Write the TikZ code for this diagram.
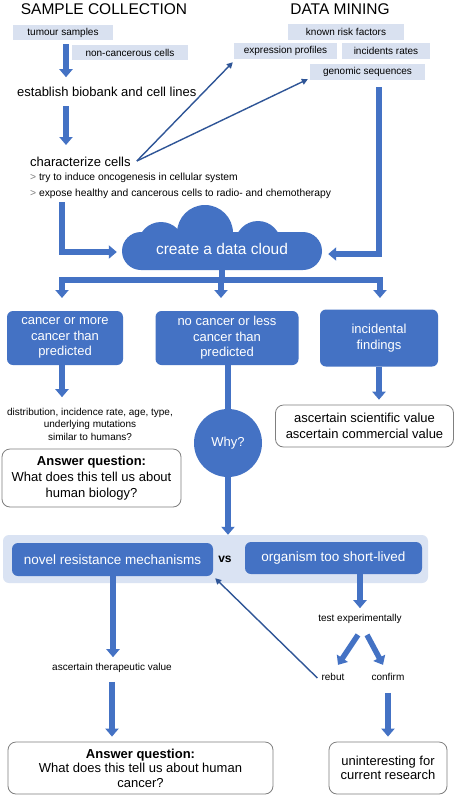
\documentclass[tikz,border=0pt]{standalone}
\usepackage{fontspec}
\setmainfont{Liberation Sans}
\usetikzlibrary{arrows.meta,calc}
\definecolor{myblue}{HTML}{4472C4}
\definecolor{lightbox}{HTML}{D9E1F0}
\definecolor{bandcol}{HTML}{DAE3F3}
\definecolor{thinblue}{HTML}{2F5597}
\definecolor{bordergray}{HTML}{7F7F7F}
\newcommand{\fsz}[2]{\fontsize{#1}{#2}\selectfont}
\begin{document}
\begin{tikzpicture}[x=1pt,y=-1pt,
 lbox/.style={fill=lightbox, inner sep=0pt, font=\fsz{10}{12}},
 bbox/.style={fill=myblue, text=white, rounded corners=6pt, align=center, inner sep=0pt, font=\fsz{13}{15.5}},
 wbox/.style={draw=bordergray, line width=0.8pt, fill=white, rounded corners=8pt, align=center, inner sep=0pt, font=\fsz{13}{15.5}},
 txt/.style={inner sep=0pt, font=\fsz{13}{15}},
 btxt/.style={inner sep=0pt, font=\fsz{10.3}{12}},
 small/.style={inner sep=0pt, font=\fsz{10}{12.5}, align=center},
 tline/.style={draw=myblue, line width=5.5pt},
 tarrow/.style={draw=myblue, line width=5.5pt, -{Triangle[width=13pt,length=8pt]}},
 tharrow/.style={draw=thinblue, line width=1.4pt, -{Triangle[width=6pt,length=6pt]}},
]
\useasboundingbox[fill=white] (0,0) rectangle (456,796);

% headings
\node[inner sep=0pt, font=\fsz{15.5}{18}] (hsc) at (104,9) {SAMPLE COLLECTION};
\node[inner sep=0pt, font=\fsz{15.5}{18}] (hdm) at (340,9) {DATA MINING};

% sample boxes
\node[lbox, minimum width=100pt, minimum height=15pt] (tumour) at (63,32.5) {tumour samples};
\node[lbox, minimum width=116pt, minimum height=15pt] (noncanc) at (130,52.5) {non-cancerous cells};

% data mining boxes
\node[lbox, minimum width=116pt, minimum height=16pt] (known) at (346,31.5) {known risk factors};
\node[lbox, minimum width=103pt, minimum height=16pt] (expr) at (285.5,51) {expression profiles};
\node[lbox, minimum width=88pt, minimum height=16pt] (incid) at (386,51) {incidents rates};
\node[lbox, minimum width=115pt, minimum height=16pt] (genom) at (367.5,72) {genomic sequences};

% left column
\node[txt, anchor=west] (estab) at (17,92) {establish biobank and cell lines};
\node[txt, anchor=west] (charac) at (30,162) {characterize cells};
\node[btxt, anchor=west] (bul1) at (30,178) {{\color{gray}>} try to induce oncogenesis in cellular system};
\node[btxt, anchor=west] (bul2) at (30,194) {{\color{gray}>} expose healthy and cancerous cells to radio- and chemotherapy};

\draw[tarrow] ([xshift=3pt,yshift=-4pt]tumour.south) -- ++(0,33);
\draw[tarrow] (66,106) -- (66,145);

\draw[tharrow] ([xshift=6pt,yshift=1pt]charac.east) -- ([shift={(-1,3)}]expr.south west);
\draw[tharrow] ([xshift=6pt,yshift=1pt]charac.east) -- ([shift={(-2,-1)}]genom.south west);

% cloud
\fill[myblue, rounded corners=19pt] (122,232) rectangle (322,270);
\fill[myblue] (205,233) circle (28pt);
\fill[myblue] (161,245) circle (23pt);
\fill[myblue] (258,244) circle (23pt);
\fill[myblue] (292,250) circle (18pt);
\node[minimum width=200pt, minimum height=42pt, inner sep=0pt, text=white, font=\fsz{15.5}{18}] (cloud) at (222,249) {create a data cloud};

\coordinate (ls) at (62,202);
\coordinate (rs) at (379,87);
\draw[tarrow] (ls) |- ([xshift=-5pt,yshift=-3pt]cloud.west);
\draw[tarrow] (rs) |- ([xshift=6pt,yshift=-5pt]cloud.east);

% distribution
\coordinate (hub) at (222,280);
\coordinate (d1) at (62,280);
\coordinate (d2) at (221,280);
\coordinate (d3) at (380,280);
\draw[tline] (cloud.south) -- (hub);
\draw[tline, line cap=butt] ([xshift=-2.75pt]d1) -- ([xshift=2.75pt]d3);
\draw[tarrow] (d1) -- ++(0,18);
\draw[tarrow] (d2) -- ++(0,18);
\draw[tarrow] (d3) -- ++(0,18);

% three outcome boxes
\node[bbox, minimum width=116pt, minimum height=54pt] (box1) at (65,338) {cancer or more\\cancer than\\predicted};
\node[bbox, minimum width=143pt, minimum height=54pt] (box2) at (227,338) {no cancer or less\\cancer than\\predicted};
\node[bbox, minimum width=118pt, minimum height=57pt] (box3) at (379,338) {incidental\\findings};

\draw[tarrow] ([xshift=-3pt]box1.south) -- ++(0,32);
\node[small] (distr) at (90,424) {distribution, incidence rate, age, type,\\underlying mutations\\similar to humans?};
\node[wbox, minimum width=179pt, minimum height=58pt, font=\fsz{13}{16}] (ans1) at (91.5,478) {\textbf{Answer question:}\\What does this tell us about\\human biology?};

\draw[tarrow] (box3.south) -- ++(0,33);
\node[wbox, minimum width=178pt, minimum height=42pt] (sci) at (364.5,426) {ascertain scientific value\\ascertain commercial value};

% why
\draw[tline] ([xshift=1pt]box2.south) -- (228,415);
\node[circle, fill=myblue, text=white, minimum size=68pt, inner sep=0pt, font=\fsz{13}{15}] (why) at (228,443) {Why?};

% band
\node[fill=bandcol, rounded corners=6pt, minimum width=425pt, minimum height=48pt, inner sep=0pt] (band) at (215.5,559) {};
\draw[tarrow] (why.south) -- (why.south |- band.north);
\node[bbox, minimum width=201pt, minimum height=33pt, font=\fsz{13.5}{16}] (novel) at (112.5,559.5) {novel resistance mechanisms};
\node[inner sep=0pt, font=\bfseries\fsz{12}{14}] (vs) at (225,559) {vs};
\node[bbox, minimum width=177pt, minimum height=32pt, font=\fsz{13.5}{16}] (org) at (333.5,558) {organism too short-lived};

% lower boxes
\node[wbox, minimum width=265pt, minimum height=52pt, font=\fsz{13}{14.5}] (ans2) at (140.5,768) {\textbf{Answer question:}\\What does this tell us about human\\cancer?};
\node[wbox, minimum width=118pt, minimum height=52pt, font=\fsz{13}{14.5}] (unint) at (388,768) {uninteresting for\\current research};

% right lower branch
\draw[tarrow] ([xshift=26.5pt]org.south) -- ++(0,34);
\node[small] (test) at (360,619) {test experimentally};
\draw[tarrow] ([shift={(-2,11)}]test.south) -- ([shift={(-22,41)}]test.south);
\draw[tarrow] ([shift={(7,11)}]test.south) -- ([shift={(23,41)}]test.south);
\node[small] (rebut) at (333,677) {rebut};
\node[small] (confirm) at (388,677) {confirm};
\draw[tharrow] ([xshift=-4pt,yshift=-1pt]rebut.west) -- ([shift={(2,2)}]novel.south east);

% left lower branch
\draw[tarrow] ([xshift=0.5pt]novel.south) -- ++(0,81);
\node[small] (ther) at (112,668) {ascertain therapeutic value};
\draw[tarrow] ($(ther.south)+(0,9)$) -- ($(ther.south |- ans2.north)+(0,-5)$);

\draw[tarrow] ($(confirm.south)+(0,12)$) -- ($(confirm.south |- unint.north)+(0,-5)$);
\end{tikzpicture}
\end{document}
